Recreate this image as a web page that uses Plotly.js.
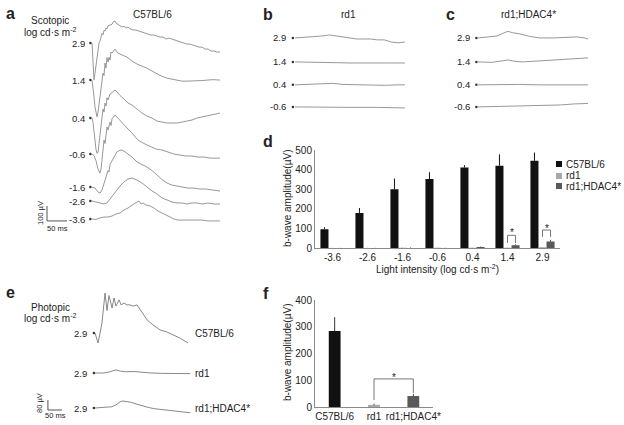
<!DOCTYPE html>
<html><head><meta charset="utf-8">
<script src="https://cdn.plot.ly/plotly-3.0.1.min.js"></script>
<style>html,body{margin:0;padding:0;background:#fff}#chart{width:624px;height:425px}</style>
</head><body><div id="chart"></div>
<script>
// ================= DATA =================
const scotopicLevels = ["2.9","1.4","0.4","-0.6","-1.6","-2.6","-3.6"];
const rdLevels = ["2.9","1.4","0.4","-0.6"];
const photopicLabels = ["C57BL/6","rd1","rd1;HDAC4*"];
const photopicLevel = "2.9";

// Panel a: C57BL/6 scotopic ERG (time ms, amplitude µV)
const a29_t = [0,2.5,5,7.5,10,12.5,15,17.5,20,22.5,25,27.5,30,32.5,35,37.5,40,45,50,52.5,57.5,60,65,70,75,80,85,90,95,102.5,110,117.5,125,132.5,140,147.5,155,162.5,170,177.5,185,192.5,200,207.5,215,222.5,230,237.5,245,252.5,260,267.5,275,282.5,290,297.5,305,312.5,320];
const a29_v = [0,-100,-245,-200,-145,-80,-25,0,15,40,65,55,85,80,100,95,115,120,125,140,147,133,125,115,107,112,100,107,95,87,87,80,73,67,60,53,53,47,40,40,27,33,27,20,13,7,0,-7,-7,-13,-20,-27,-27,-40,-40,-53,-53,-60,-60];
const a14_t = [0,2.5,5,7.5,10,12.5,15,17.5,20,22.5,25,27.5,30,32.5,35,37.5,40,42.5,45,47.5,50,57.5,65,75,87.5,100,112.5,125,137.5,150,162.5,175,187.5,200,212.5,225,237.5,250,262.5,275,287.5,302.5,320];
const a14_v = [0,-40,-110,-180,-225,-245,-215,-160,-100,-45,0,47,30,113,80,150,120,153,133,187,180,207,180,167,153,127,107,93,80,60,40,25,13,5,0,-7,-7,-7,-7,-3,0,3,0];
const a04_t = [0,2.5,5,7.5,10,12.5,15,17.5,20,22.5,25,27.5,30,32.5,35,37.5,40,45,50,57.5,62.5,70,80,90,100,112.5,125,137.5,150,162.5,175,187.5,200,212.5,225,237.5,250,262.5,275,287.5,300,310,320];
const a04_v = [0,-30,-90,-160,-210,-235,-230,-170,-100,-40,20,60,40,100,80,135,120,160,170,187,175,150,127,100,87,60,33,13,0,-20,-27,-33,-33,-33,-27,-20,-13,0,7,13,20,27,33];
const am06_t = [0,5,10,15,20,22.5,25,27.5,30,32.5,35,37.5,40,45,47.5,50,57.5,62.5,70,80,90,100,115,130,145,160,175,190,205,220,235,250,265,280,295,310,320];
const am06_v = [0,-10,-45,-100,-127,-100,-40,20,93,70,120,180,160,213,190,235,260,245,220,190,167,140,93,70,53,33,27,13,0,-7,-13,-13,-20,-20,-27,-27,-27];
const am16_t = [0,7.5,15,20,25,30,35,40,42.5,45,50,55,62.5,70,75,82.5,90,100,112.5,125,137.5,150,162.5,175,187.5,200,212.5,225,240,255,270,285,300,320];
const am16_v = [0,-7,-33,-40,-20,20,60,110,100,150,175,200,235,245,247,235,220,200,167,150,133,110,80,50,27,13,7,0,-7,-7,-13,-13,-20,-27];
const am26_t = [0,10,20,30,37.5,45,52.5,60,70,80,90,100,112.5,125,137.5,150,162.5,175,187.5,200,212.5,225,237.5,250,262.5,275,290,305,320];
const am26_v = [0,-7,-13,-20,-13,13,40,73,100,127,147,153,140,120,93,67,47,20,7,-7,-13,-13,-20,-13,-13,-20,-13,-20,-20];
const am36_t = [0,10,20,30,40,50,60,70,80,90,100,110,117.5,122.5,127.5,135,145,155,165,175,185,195,205,215,230,245,260,275,290,305,320];
const am36_v = [0,-3,7,13,13,20,33,40,60,73,93,107,120,100,107,93,87,73,53,40,27,13,0,-7,-7,-7,-7,-7,-13,-13,-13];

// Panel b: rd1
const b29_t = [0,20,40,60,80,100,120,140,160,180,200,220,240,260,280,300,320];
const b29_v = [0,3,7,7,13,20,13,7,0,-7,-7,-7,-13,-13,-27,-33,-27];
const b14_t = [0,40,80,120,160,200,240,280,320];
const b14_v = [0,-3,-7,-5,-7,-5,-7,-7,-7];
const b04_t = [0,40,80,110,140,180,220,260,300,320];
const b04_v = [0,3,7,10,3,0,-3,-3,0,0];
const bm06_t = [0,80,160,240,320];
const bm06_v = [0,-3,-3,-3,-7];

// Panel c: rd1;HDAC4*
const c29_t = [0,25,55,75,87,100,122,150,180,220,260,288,310,320];
const c29_v = [0,5,13,33,44,35,27,10,0,0,3,7,0,-7];
const c14_t = [0,40,70,87,105,130,180,230,280,320];
const c14_v = [0,-3,7,13,5,0,7,13,20,27];
const c04_t = [0,60,120,180,240,320];
const c04_v = [0,3,3,0,0,0];
const cm06_t = [0,80,160,240,280,320];
const cm06_v = [0,3,7,13,20,23];

// Panel e: photopic
const eC57_t = [0,5,11,18,25,36,43,50,61,68,75,86,93,104,114,125,136,150,168,186,207,232,257,278,303,332];
const eC57_v = [0,-30,-80,0,80,320,180,300,200,280,215,265,225,240,225,225,215,225,160,105,65,25,8,-15,-40,-80];
const eRd1_t = [0,30,50,75,90,110,140,170,200,240,280,320,340];
const eRd1_v = [0,0,8,25,15,10,12,5,0,-3,-5,-5,-5];
const eHD_t = [0,30,60,75,90,100,115,130,150,170,190,210,230,260,290,320,340];
const eHD_v = [0,3,10,25,50,56,50,45,30,15,5,-5,-10,-15,-25,-30,-38];

// Panel d: scotopic b-wave amplitude (µV)
const intensities = ["-3.6","-2.6","-1.6","-0.6","0.4","1.4","2.9"];
const dC57 = [97,180,300,352,411,420,445];
const dC57err = [10,25,55,35,12,58,42];
const dRd1 = [2,2,3,3,3,3,5];
const dRd1err = [1,1,2,1,1,2,2];
const dHD = [1,1,2,2,6,15,35];
const dHDerr = [1,1,2,1,2,4,6];
const groupNames = ["C57BL/6","rd1","rd1;HDAC4*"];

// Panel f: photopic b-wave amplitude (µV)
const fVals = [284,8,41];
const fErr = [52,4,7];

// ================= STYLE / LAYOUT =================
const FONT = 'Arial, "Liberation Sans", sans-serif';
const W = 624, H = 425;
const px = x => x / W, py = y => 1 - y / H;
const COL = {c57:'#111111', rd1:'#a8a8a8', hd:'#595959', ink:'#222222', trace:'#8c8c8c', axis:'#8a8a8a'};
const annotations = [], shapes = [], data = [];

function note(text, x, y, o = {}) {
  const a = {text, x:px(x), y:py(y), xref:'paper', yref:'paper', showarrow:false,
    xanchor:o.xanchor || 'center', yanchor:o.yanchor || 'middle',
    font:{family:FONT, size:o.size || 10, color:o.color || COL.ink}};
  if (o.textangle !== undefined) a.textangle = o.textangle;
  annotations.push(a);
}

function tracePanel(series, offsets, labels, xa, ya, color, labelT, dotT, labelSize) {
  series.forEach(([t, v], i) => {
    data.push({type:'scatter', mode:'lines', x:t, y:v.map(a => a + offsets[i]), xaxis:xa, yaxis:ya,
      line:{color, width:0.9}, hoverinfo:'skip', showlegend:false});
    annotations.push({text:labels[i], x:labelT, y:offsets[i], xref:xa, yref:ya, showarrow:false,
      xanchor:'right', yanchor:'middle', font:{family:FONT, size:labelSize, color:COL.ink}});
  });
  data.push({type:'scatter', mode:'markers', x:offsets.map(() => dotT), y:offsets, xaxis:xa, yaxis:ya,
    marker:{size:2.5, color:'#333'}, hoverinfo:'skip', showlegend:false});
}

// offsets (µV) stacking baselines
const offA = [0,-247,-500,-740,-960,-1053,-1173];
const offB = [0,-160,-313,-460];
const offE = [0,-320,-600];

tracePanel([[a29_t,a29_v],[a14_t,a14_v],[a04_t,a04_v],[am06_t,am06_v],[am16_t,am16_v],[am26_t,am26_v],[am36_t,am36_v]],
  offA, scotopicLevels, 'x', 'y', COL.trace, -12.5, -4, 9.5);
tracePanel([[b29_t,b29_v],[b14_t,b14_v],[b04_t,b04_v],[bm06_t,bm06_v]], offB, rdLevels, 'x2', 'y2', COL.trace, -20, -6, 9.5);
tracePanel([[c29_t,c29_v],[c14_t,c14_v],[c04_t,c04_v],[cm06_t,cm06_v]], offB, rdLevels, 'x3', 'y3', COL.trace, -17, -5, 9.5);
tracePanel([[eC57_t,eC57_v],[eRd1_t,eRd1_v],[eHD_t,eHD_v]], offE, photopicLabels.map(() => photopicLevel), 'x5', 'y5', '#7a7a7a', -21, -4, 9.5);
// right-side genotype labels for e
photopicLabels.forEach((l, i) => annotations.push({text:l, x:350, y:offE[i], xref:'x5', yref:'y5', showarrow:false,
  xanchor:'left', yanchor:'middle', font:{family:FONT, size:10, color:COL.ink}}));

// scale bars (in data units of the trace axes)
function scaleBar(xa, ya, t0, v0, dt, dv) {
  const s = {type:'line', xref:xa, yref:ya, line:{color:'#555', width:1}};
  shapes.push(Object.assign({}, s, {x0:t0, x1:t0, y0:v0, y1:v0 + dv}));
  shapes.push(Object.assign({}, s, {x0:t0, x1:t0 + dt, y0:v0, y1:v0}));
}
scaleBar('x', 'y', -112.5, -1186, 50, 100);
scaleBar('x5', 'y5', -168, -616, 50, 80);
note('100 µV', 40, 213, {size:7.5, textangle:-90});
note('50 ms', 57, 228, {size:7.5});
note('80 µV', 39, 403, {size:7.5, textangle:-90});
note('50 ms', 55, 415, {size:7.5});

// bar charts
const zeros = a => a.map(() => 0);
const bars = [[dC57, dC57err, COL.c57], [dRd1, dRd1err, COL.rd1], [dHD, dHDerr, COL.hd]];
bars.forEach(([v, e, c], i) => data.push({type:'bar', x:intensities, y:v, name:groupNames[i], xaxis:'x4', yaxis:'y4',
  marker:{color:c, line:{width:0}}, error_y:{type:'data', array:e, arrayminus:zeros(e), symmetric:false, width:0, thickness:1, color:c === COL.rd1 ? '#999' : '#111'},
  hoverinfo:'skip', showlegend:false}));
data.push({type:'bar', x:groupNames, y:fVals, xaxis:'x6', yaxis:'y6', width:0.3,
  marker:{color:[COL.c57, COL.rd1, COL.hd], line:{width:0}},
  error_y:{type:'data', array:fErr, arrayminus:zeros(fErr), symmetric:false, width:0, thickness:1, color:'#333'},
  hoverinfo:'skip', showlegend:false});

// significance brackets
function bracket(xa, ya, xl, xr, yTop, yl, yr, starY) {
  const s = {type:'line', xref:xa, yref:ya, line:{color:'#777', width:1}};
  shapes.push(Object.assign({}, s, {x0:xl, x1:xl, y0:yl, y1:yTop}));
  shapes.push(Object.assign({}, s, {x0:xl, x1:xr, y0:yTop, y1:yTop}));
  shapes.push(Object.assign({}, s, {x0:xr, x1:xr, y0:yr, y1:yTop}));
  annotations.push({text:'*', x:(xl + xr) / 2, y:starY, xref:xa, yref:ya, showarrow:false, xanchor:'center', yanchor:'middle',
    font:{family:FONT, size:10, color:COL.ink}});
}
const BARGAP = 0.31, bw = (1 - BARGAP) / 3;
bracket('x4', 'y4', 5, 5 + bw, 66, 27, 27, 78);
bracket('x4', 'y4', 6, 6 + bw, 93, 58, 58, 103);
bracket('x6', 'y6', 1, 2, 105, 26, 52, 112);

// legend for d
[[COL.c57, 164], [COL.rd1, 176], [COL.hd, 186]].forEach(([c, y], i) => {
  shapes.push({type:'rect', xref:'paper', yref:'paper', x0:px(556), x1:px(562), y0:py(y + 3), y1:py(y - 3), fillcolor:c, line:{width:0}});
  note(groupNames[i], 564, y, {xanchor:'left'});
});

// titles & headers
note('<b>a</b>', 10, 13, {size:16});
note('Scotopic', 50, 20);
note('log cd·s m<sup>-2</sup>', 50, 32);
note('C57BL/6', 152, 15);
note('<b>b</b>', 268, 15, {size:16});
note('rd1', 348, 15);
note('<b>c</b>', 450, 15, {size:16});
note('rd1;HDAC4*', 528, 15);
note('<b>d</b>', 268, 141, {size:16});
note('b-wave amplitude(µV)', 287, 199, {textangle:-90});
note('Light intensity (log cd·s m<sup>-2</sup>)', 437, 269);
note('<b>e</b>', 10, 292, {size:16});
note('Photopic', 50, 307);
note('log cd·s m<sup>-2</sup>', 50, 318);
note('<b>f</b>', 266, 293, {size:16});
note('b-wave amplitude(µV)', 287, 353, {textangle:-90});

const hidden = (dom, range, anchor) => ({domain:dom, range, anchor, visible:false, fixedrange:true});
const barAxisFont = {family:FONT, size:10, color:COL.ink};
const layout = {
  width:W, height:H, margin:{l:0, r:0, t:0, b:0}, paper_bgcolor:'#fff', plot_bgcolor:'rgba(0,0,0,0)',
  showlegend:false, barmode:'group', bargap:BARGAP, bargroupgap:0,
  font:{family:FONT, size:10, color:COL.ink},
  xaxis: hidden([0, px(230)], [-230, 345], 'y'),
  yaxis: hidden([py(240), 1], [-1313, 287], 'x'),
  xaxis2: hidden([px(240), px(420)], [-160, 364], 'y2'),
  yaxis2: hidden([py(130), 1], [-614, 253], 'x2'),
  xaxis3: hidden([px(430), px(610)], [-140, 384], 'y3'),
  yaxis3: hidden([py(130), 1], [-614, 253], 'x3'),
  xaxis5: hidden([0, px(260)], [-339, 589], 'y5'),
  yaxis5: hidden([0, py(285)], [-736, 384], 'x5'),
  xaxis4: {domain:[px(315), px(560)], anchor:'y4', type:'category', showline:true, linecolor:COL.axis, linewidth:1,
    ticks:'', showgrid:false, zeroline:false, tickfont:barAxisFont, fixedrange:true},
  yaxis4: {domain:[py(248.3), py(150)], anchor:'x4', range:[0, 500], dtick:100, showline:true, linecolor:COL.axis, linewidth:1,
    ticks:'', showgrid:false, zeroline:false, tickfont:barAxisFont, fixedrange:true},
  xaxis6: {domain:[px(315), px(433)], anchor:'y6', type:'category', showline:true, linecolor:COL.axis, linewidth:1,
    ticks:'', showgrid:false, zeroline:false, tickfont:barAxisFont, fixedrange:true},
  yaxis6: {domain:[py(407), py(300)], anchor:'x6', range:[0, 400], dtick:100, showline:true, linecolor:COL.axis, linewidth:1,
    ticks:'', showgrid:false, zeroline:false, tickfont:barAxisFont, fixedrange:true},
  annotations, shapes
};
Plotly.newPlot('chart', data, layout, {staticPlot:true, displayModeBar:false});
</script></body></html>
